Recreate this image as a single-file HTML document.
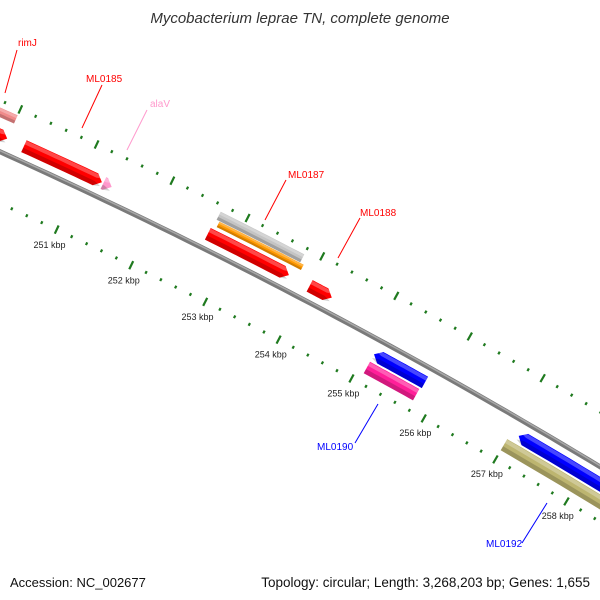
<!DOCTYPE html>
<html><head><meta charset="utf-8"><style>
html,body{margin:0;background:#fff;width:600px;height:600px;overflow:hidden}
svg{display:block;font-family:"Liberation Sans",sans-serif}
</style></head><body>
<svg id="map" width="600" height="600" viewBox="0 0 600 600">
<rect width="600" height="600" fill="#fff"/>
<text x="300" y="23" text-anchor="middle" font-size="15" font-style="italic" fill="#333">Mycobacterium leprae TN, complete genome</text>
<text x="10" y="587" font-size="13" fill="#111">Accession: NC_002677</text>
<text x="590" y="587" font-size="13.5" text-anchor="end" fill="#111">Topology: circular; Length: 3,268,203 bp; Genes: 1,655</text>
<g id="ticks"></g>
<g id="backbone"></g>
<g id="features"></g>
<g id="labels"></g>
</svg>
<script>
// feature data (kbp)
const featNames = ["rimJ","ML0184","ML0185","alaV","ML0187","ML0187-orange","ML0187-gray","ML0188","ML0189","ML0190","ML0191","ML0192"];
const featStart = [249.4, 249.5, 250.22, 251.27, 252.66, 252.72, 252.68, 254.03, 255.1, 255.1, 257.1, 257.0];
const featEnd   = [250.0, 250.0, 251.25, 251.38, 253.75, 253.85, 253.8, 254.33, 255.8, 255.78, 259.5, 259.5];
const featStrand= [0, 1, 1, 1, 1, 0, 0, 1, -1, 0, -1, 0];
const featTrack = [3, 1, 1, 1, 1, 2, 3, 1, -1, -2, -1, -2];
const featColor = ["#f08a8a","#ff0000","#ff0000","#ff99cc","#ff0000","#ff9900","#c4c4c4","#ff0000","#0000ff","#ff1f99","#0000ff","#bdb570"];
const tickLabels = [251,252,253,254,255,256,257,258];
const labelText = ["rimJ","ML0185","alaV","ML0187","ML0188","ML0190","ML0192"];
const labelColor= ["#ff0000","#ff0000","#ff99cc","#ff0000","#ff0000","#0000ff","#0000ff"];

const NS="http://www.w3.org/2000/svg";
const CX=-2317, CY=5295, R=5641;
const A251=Math.atan2(-5066,2374), DA=0.01476;
function P(k,r){const a=A251+(k-251)*DA;return [CX+r*Math.cos(a),CY+r*Math.sin(a)];}
function trackR(t){return R+({1:15,2:28,3:36,"-1":-15,"-2":-30})[t];}
function trackH(t){return t==2?6:(t==3?9:13);}
function mk(tag,attrs,parent){const e=document.createElementNS(NS,tag);for(const k in attrs)e.setAttribute(k,attrs[k]);parent.appendChild(e);return e;}
function arcPts(k1,k2,r,n){const p=[];for(let i=0;i<=n;i++){p.push(P(k1+(k2-k1)*i/n,r));}return p;}
function ptsStr(p){return p.map(q=>q[0].toFixed(1)+","+q[1].toFixed(1)).join(" ");}

// backbone
const bb=document.getElementById('backbone');
const b1=mk('polyline',{points:ptsStr(arcPts(249,260,R,60)),fill:'none',stroke:'#7a7a7a','stroke-width':5},bb);


const b2=mk('polyline',{points:ptsStr(arcPts(249,260,R+1,60)),fill:'none',stroke:'#a8a8a8','stroke-width':1.5},bb);



// ticks
const tg=document.getElementById('ticks');
[R-47,R+47].forEach((rr)=>{
  for(let i=0;i<=60;i++){
    const k=249+i*0.2;
    const major=Math.abs(k-Math.round(k))<1e-6;
    const len=major?4.5:1.5;
    const a=P(k,rr-len),b=P(k,rr+len);
    const l=mk('line',{x1:a[0],y1:a[1],x2:b[0],y2:b[1],stroke:'#1f7a1f','stroke-width':2.2},tg);
    
    
  }
});
tickLabels.forEach(k=>{
  const p=P(k,R-47-17);
  const t=mk('text',{x:p[0],y:p[1]+3,'text-anchor':'middle','font-size':9,fill:'#222'},tg);
  t.textContent=k+" kbp";
  
  
});

// features
const fg=document.getElementById('features');
function shape(k1,k2,rc,h,strand){
  const ah=0.085, n=12, ro=rc+h/2, ri=rc-h/2;
  let tipF=null, tipR=null, s=k1, e=k2;
  if(strand==1){e=Math.max(k1,k2-ah);tipF=P(k2,rc);}
  if(strand==-1){s=Math.min(k2,k1+ah);tipR=P(k1,rc);}
  const outer=arcPts(s,e,ro,n), inner=arcPts(s,e,ri,n).reverse();
  let pts=[...outer];
  if(tipF)pts.push(tipF);
  pts=pts.concat(inner);
  if(tipR)pts.push(tipR);
  return pts;
}
for(let i=0;i<featNames.length;i++){
  const rc=trackR(featTrack[i]),h=trackH(featTrack[i]);
  const g=mk('g',{},fg);
  
  
  mk('polygon',{points:ptsStr(shape(featStart[i],featEnd[i],rc,h,featStrand[i])),fill:featColor[i]},g);
  mk('polygon',{points:ptsStr(shape(featStart[i],featEnd[i],rc-h*0.32,h*0.36,featStrand[i])),fill:'#000','fill-opacity':0.18},g);
  mk('polygon',{points:ptsStr(shape(featStart[i],featEnd[i],rc+h*0.3,h*0.3,featStrand[i])),fill:'#fff','fill-opacity':0.28},g);
}

// labels
const lg=document.getElementById('labels');
const labelPos=[[18,46,17,50,5,93],[86,82,102,85,82,128],[150,107,147,110,127,150],[288,178,286,180,265,220],[360,216,360,218,338,258],[317,450,355,443,378,404],[486,547,522,543,547,503]];
labelText.forEach((s,i)=>{
  const q=labelPos[i];
  const l=mk('line',{x1:q[2],y1:q[3],x2:q[4],y2:q[5],stroke:labelColor[i],'stroke-width':1},lg);
  
  
  const t=mk('text',{x:q[0],y:q[1],'font-size':10,fill:labelColor[i]},lg);
  t.textContent=s;
  
  
});
</script>
</body></html>
